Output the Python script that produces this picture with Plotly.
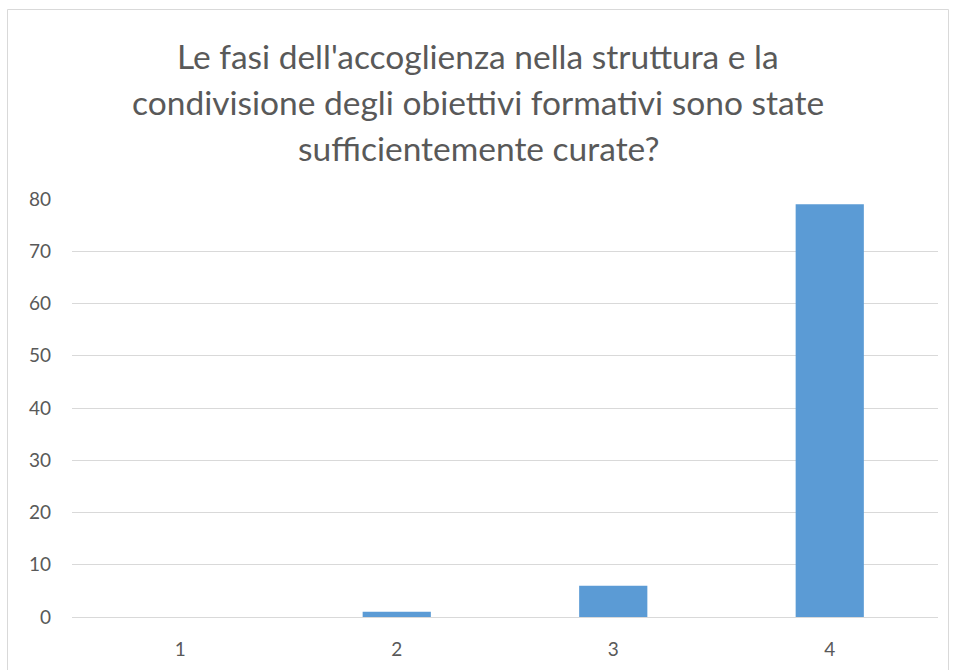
import plotly.graph_objects as go

categories = ["1", "2", "3", "4"]
values = [0, 1, 6, 79]
title_lines = [
    "Le fasi dell'accoglienza nella struttura e la",
    "condivisione degli obiettivi formativi sono state",
    "sufficientemente curate?",
]
y_ticks = [0, 10, 20, 30, 40, 50, 60, 70, 80]

W, H = 955, 670
L, R, T, B = 72, 17, 199, 53
pw, ph = W - L - R, H - T - B

def px_x(x):
    return (x - L) / pw

def px_y(y):
    return (H - B - y) / ph

fig = go.Figure()
fig.add_trace(go.Bar(
    x=categories, y=values,
    marker=dict(color="#5B9BD5", line=dict(width=0)),
    width=0.315,
    hoverinfo="x+y",
))

annotations = []
for i, line in enumerate(title_lines):
    annotations.append(dict(
        text=line, xref="paper", yref="paper",
        x=px_x(478), y=px_y(56 + 46 * i),
        xanchor="center", yanchor="middle", showarrow=False,
        font=dict(family="Lato, Carlito, sans-serif", size=33.5,
                  color="#595959"),
    ))

fig.update_layout(
    width=W, height=H,
    margin=dict(l=L, r=R, t=T, b=B, autoexpand=False),
    paper_bgcolor="white", plot_bgcolor="white",
    showlegend=False,
    annotations=annotations,
    shapes=[dict(
        type="rect", xref="paper", yref="paper",
        x0=px_x(7.5), x1=px_x(948.5), y0=px_y(700), y1=px_y(9.5),
        line=dict(color="#D9D9D9", width=1), fillcolor="rgba(0,0,0,0)",
        layer="below",
    )],
    font=dict(family="Lato, Carlito, sans-serif", size=19, color="#595959"),
)
fig.update_xaxes(
    type="category", showgrid=False, showline=True, linecolor="#D9D9D9",
    linewidth=1, ticks="", ticklabelstandoff=15, automargin=False,
    tickfont=dict(size=19, color="#595959"),
)
fig.update_yaxes(
    range=[0, 80], tickvals=y_ticks, showgrid=True, gridcolor="#D9D9D9",
    gridwidth=1, zeroline=False, showline=False, ticks="", automargin=False,
    ticklabelstandoff=20, tickfont=dict(size=19, color="#595959"),
)

fig.write_html("out.html", config={"displayModeBar": False},
               post_script="document.body.style.margin='0';")
